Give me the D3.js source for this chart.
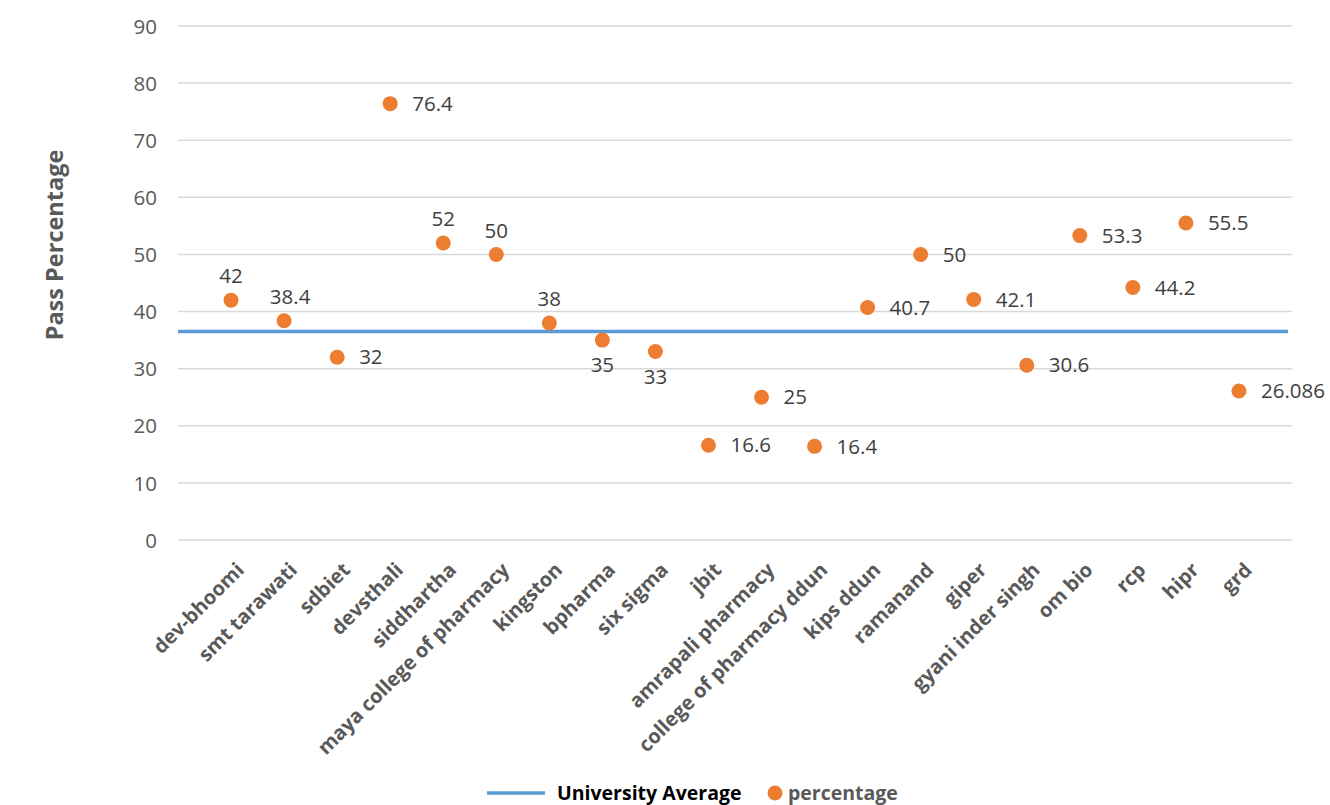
<!DOCTYPE html>
<html><head><meta charset="utf-8">
<script src="https://cdn.jsdelivr.net/npm/d3@7"></script>
<style>body{margin:0;background:#fff;} svg{display:block;font-family:"Open Sans",sans-serif;}</style>
</head><body>
<svg id="c" width="1330" height="805"></svg>
<script>
const categories = ["dev-bhoomi","smt tarawati","sdbiet","devsthali","siddhartha","maya college of pharmacy","kingston","bpharma","six sigma","jbit","amrapali pharmacy","college of pharmacy ddun","kips ddun","ramanand","giper","gyani inder singh","om bio","rcp","hipr","grd"];
const percentage = [42,38.4,32,76.4,52,50,38,35,33,16.6,25,16.4,40.7,50,42.1,30.6,53.3,44.2,55.5,26.086];
const universityAverage = 36.5;
const yTicks = [0,10,20,30,40,50,60,70,80,90];
const labelPos = ["above","above","right","right","above","above","above","below","below","right","right","right","right","right","right","right","right","right","right","right"];

const svg = d3.select("#c");
const x = d3.scaleLinear().domain([0, categories.length + 1]).range([178, 1292]);
const y = d3.scaleLinear().domain([0, 90]).range([540, 26]);

// gridlines
svg.append("g").selectAll("line").data(yTicks).join("line")
  .attr("x1", 178).attr("x2", 1292)
  .attr("y1", d => y(d)).attr("y2", d => y(d))
  .attr("stroke", "#d9d9d9").attr("stroke-width", 1.5);

// y axis labels
const yAxis = d3.axisLeft(y).tickValues(yTicks).tickSize(0).tickPadding(0);
const ga = svg.append("g").attr("transform", "translate(157,0)").call(yAxis);
ga.select(".domain").remove();
ga.selectAll("text").attr("font-size", 20.5).attr("fill", "#595959").attr("font-family", "Open Sans").attr("dy", "0.35em");

// x labels
svg.append("g").selectAll("text").data(categories).join("text")
  .attr("transform", (d, i) => `translate(${x(i + 1) + 4},561) rotate(-45)`)
  .attr("text-anchor", "end").attr("dy", "0.72em")
  .attr("font-size", 20).attr("font-weight", "bold").attr("fill", "#595959")
  .text(d => d);

// average line
svg.append("line")
  .attr("x1", 178).attr("x2", 1288)
  .attr("y1", y(universityAverage)).attr("y2", y(universityAverage))
  .attr("stroke", "#5B9BD5").attr("stroke-width", 3.5);

// dots
svg.append("g").selectAll("circle").data(percentage).join("circle")
  .attr("cx", (d, i) => x(i + 1)).attr("cy", d => y(d)).attr("r", 7.5)
  .attr("fill", "#ED7D31");

// data labels
svg.append("g").selectAll("text").data(percentage).join("text")
  .attr("x", (d, i) => labelPos[i] === "right" ? x(i + 1) + 22 : x(i + 1) + (i === 1 ? 6 : 0))
  .attr("y", (d, i) => y(d) + (labelPos[i] === "above" ? -24 : labelPos[i] === "below" ? 25 : 0))
  .attr("dy", "0.35em")
  .attr("text-anchor", (d, i) => labelPos[i] === "right" ? "start" : "middle")
  .attr("font-size", 20.5).attr("fill", "#404040")
  .text(d => d);

// axis title
svg.append("text")
  .attr("transform", "translate(55,245) rotate(-90)")
  .attr("text-anchor", "middle").attr("dy", "0.35em")
  .attr("font-size", 23.5).attr("font-weight", "bold").attr("fill", "#595959")
  .text("Pass Percentage");

// legend
const lg = svg.append("g");
lg.append("line").attr("x1", 487).attr("x2", 545).attr("y1", 793).attr("y2", 793)
  .attr("stroke", "#5B9BD5").attr("stroke-width", 3.5);
lg.append("text").attr("x", 557).attr("y", 793).attr("dy", "0.35em")
  .attr("font-size", 19.5).attr("font-weight", "bold").attr("fill", "#000")
  .text("University Average");
lg.append("circle").attr("cx", 775).attr("cy", 793).attr("r", 7.5).attr("fill", "#ED7D31");
lg.append("text").attr("x", 788).attr("y", 793).attr("dy", "0.35em")
  .attr("font-size", 19.5).attr("font-weight", "bold").attr("fill", "#595959")
  .text("percentage");
</script>
</body></html>
